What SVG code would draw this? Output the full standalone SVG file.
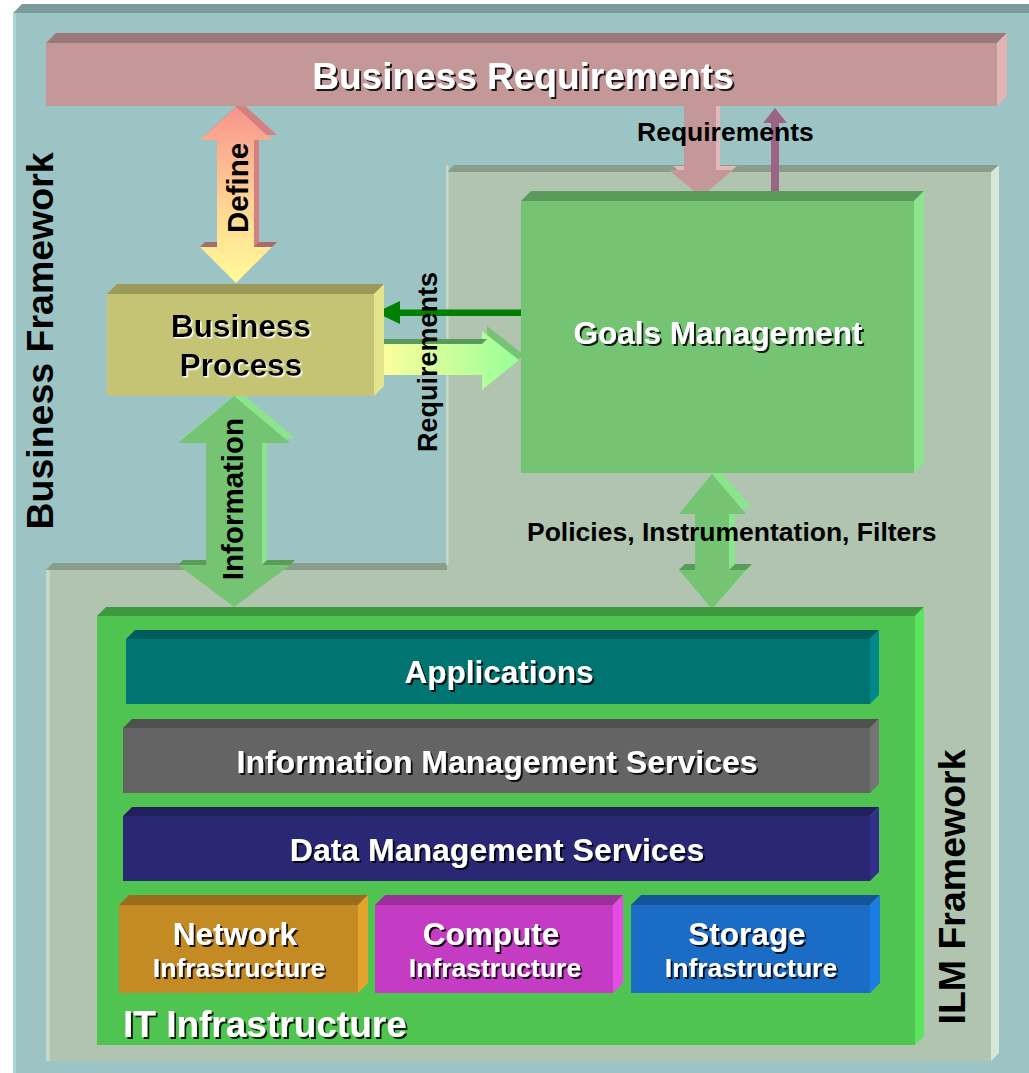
<svg xmlns="http://www.w3.org/2000/svg" width="1029" height="1073" viewBox="0 0 1029 1073">
<defs>
<style>
.t{font-family:"Liberation Sans",Arial,Helvetica,sans-serif;font-weight:bold}
.w{fill:#ffffff;filter:url(#sh)}
.k{fill:#000000}
.kw{fill:#000000;filter:url(#shw)}
</style>
<filter id="sh" x="-10%" y="-20%" width="130%" height="160%"><feDropShadow dx="2" dy="2" stdDeviation="0.4" flood-color="#000" flood-opacity="0.85"/></filter>
<filter id="shw" x="-10%" y="-20%" width="130%" height="160%"><feDropShadow dx="1.5" dy="1.5" stdDeviation="0.3" flood-color="#fff" flood-opacity="0.95"/></filter>
<linearGradient id="gDef" x1="0" y1="0" x2="0" y2="1"><stop offset="0" stop-color="#F7948E"/><stop offset="0.55" stop-color="#FFD493"/><stop offset="1" stop-color="#FFFB98"/></linearGradient>
<linearGradient id="gReq" x1="0" y1="0" x2="1" y2="0"><stop offset="0" stop-color="#FFFF9C"/><stop offset="1" stop-color="#98FF98"/></linearGradient>
</defs>

<g id="business-framework">
<rect x="13" y="13" width="1020" height="1065" fill="#9CC4C4"/>
<polygon points="13,13 22,4 1035,4 1035,13" fill="#7A9C9C"/>
<rect x="13" y="13" width="3" height="1065" fill="#B0D4D4"/>
<text class="t k" font-size="37.5" text-anchor="middle" transform="translate(53,341) rotate(-90)">Business Framework</text>
</g>

<g id="ilm-framework">
<polygon points="447,172 991,172 991,1061 46,1061 46,570 447,570" fill="#B0C4B0"/>
<polygon points="447,172 454,165 999,165 991,172" fill="#8A9C8A"/>
<polygon points="46,570 53,563 447,563 447,570" fill="#8A9C8A"/>
<polygon points="991,172 999,165 999,1053 991,1061" fill="#D6E8D6"/>
<rect x="46" y="570" width="4" height="491" fill="#C4D8C4"/>
<rect x="446" y="165" width="2.5" height="400" fill="#C4D8C4"/>
<text class="t k" font-size="37.5" text-anchor="middle" transform="translate(965,887) rotate(-90)">ILM Framework</text>
</g>

<g id="connectors">
<g id="define-arrow">
<path transform="translate(5,-5)" d="M236,107 L272,140 L254,140 L254,247 L272,247 L236,283 L200,247 L217,247 L217,140 L200,140 Z" fill="#D48080"/>
<path d="M236,107 L272,140 L254,140 L254,247 L272,247 L236,283 L200,247 L217,247 L217,140 L200,140 Z" fill="url(#gDef)"/>
<polygon points="200,247 205,242 217,242 217,247" fill="#A46C6C"/>
<polygon points="254,247 259,242 277,242 272,247" fill="#A46C6C"/>
<text class="t k" font-size="29.5" text-anchor="middle" transform="translate(248,188) rotate(-90)">Define</text>
</g>
<g id="req-down-arrow">
<path transform="translate(4,-4)" d="M684,110 L716,110 L716,170 L733,170 L701,197 L669,170 L684,170 Z" fill="#E4B8B8"/>
<path d="M684,104 L716,104 L716,170 L733,170 L701,197 L669,170 L684,170 Z" fill="#C49898"/>
</g>
<g id="req-up-arrow">
<path d="M775,108 L787,123 L779,123 L779,194 L771,194 L771,123 L763,123 Z" fill="#9C6484"/>
</g>
<text class="t k" font-size="26.5" x="637" y="141">Requirements</text>
<g id="goals-to-process-arrow">
<path d="M525,309.5 L400,309.5 L400,301 L376,312.5 L400,324 L400,316 L525,316 Z" fill="#008000"/>
</g>
<g id="process-to-goals-arrow">
<path transform="translate(5,-5)" d="M378,344 L482,344 L482,331 L519,360 L482,390 L482,375 L378,375 Z" fill="#74C474"/>
<path d="M378,344 L482,344 L482,331 L519,360 L482,390 L482,375 L378,375 Z" fill="url(#gReq)"/>
<polygon points="378,344 383,339 487,339 482,344" fill="#5A9A5A"/>
</g>
<text class="t k" font-size="27" text-anchor="middle" transform="translate(437,362) rotate(-90)">Requirements</text>
<g id="information-arrow">
<path transform="translate(5,-5)" d="M234,396 L290,443 L262,443 L262,565 L290,565 L234,607 L178,565 L206,565 L206,443 L178,443 Z" fill="#8CE48C"/>
<path d="M234,396 L290,443 L262,443 L262,565 L290,565 L234,607 L178,565 L206,565 L206,443 L178,443 Z" fill="#74C474"/>
<polygon points="178,565 183,560 206,560 206,565" fill="#5A9A5A"/>
<polygon points="262,565 267,560 295,560 290,565" fill="#5A9A5A"/>
<text class="t k" font-size="29.5" text-anchor="middle" transform="translate(243,499) rotate(-90)">Information</text>
</g>
<g id="policies-arrow">
<path transform="translate(6,-6)" d="M712,474 L746,514 L729,514 L729,570 L746,570 L712,609 L679,570 L695,570 L695,514 L679,514 Z" fill="#8CE48C"/>
<path d="M712,474 L746,514 L729,514 L729,570 L746,570 L712,609 L679,570 L695,570 L695,514 L679,514 Z" fill="#74C474"/>
<polygon points="679,570 685,564 695,564 695,570" fill="#5A9A5A"/>
<polygon points="729,570 735,564 752,564 746,570" fill="#5A9A5A"/>
</g>
<text class="t k" font-size="26.5" x="527" y="541">Policies, Instrumentation, Filters</text>
</g>

<g id="business-requirements">
<rect x="46" y="43" width="951" height="63" fill="#C49898"/>
<polygon points="46,43 56,33 1007,33 997,43" fill="#9C7878"/>
<polygon points="997,43 1007,33 1007,96 997,106" fill="#E2B4B4"/>
<text class="t w" font-size="37" text-anchor="middle" x="523" y="89">Business Requirements</text>
</g>

<g id="goals-management">
<rect x="521" y="201" width="393" height="272" fill="#74C474"/>
<polygon points="521,201 531,191 924,191 914,201" fill="#5A9A5A"/>
<polygon points="914,201 924,191 924,463 914,473" fill="#8CE48C"/>
<text class="t w" font-size="31.5" text-anchor="middle" x="718" y="344">Goals Management</text>
</g>

<g id="business-process">
<rect x="107" y="294" width="267" height="102" fill="#C4C474"/>
<polygon points="107,294 117,284 384,284 374,294" fill="#9A9A5A"/>
<polygon points="374,294 384,284 384,386 374,396" fill="#E4E48C"/>
<text class="t kw" font-size="31.5" text-anchor="middle" x="241" y="337">Business</text>
<text class="t kw" font-size="31.5" text-anchor="middle" x="241" y="376">Process</text>
</g>

<g id="it-infrastructure">
<rect x="97" y="616" width="818" height="429" fill="#50C450"/>
<polygon points="97,616 106,607 924,607 915,616" fill="#3C9A3C"/>
<polygon points="915,616 924,607 924,1036 915,1045" fill="#5CE45C"/>
<text class="t w" font-size="37" x="123" y="1037">IT Infrastructure</text>
</g>

<g id="applications">
<rect x="126" y="639" width="744" height="65" fill="#007470"/>
<polygon points="126,639 135,630 879,630 870,639" fill="#005C5A"/>
<polygon points="870,639 879,630 879,695 870,704" fill="#00888A"/>
<text class="t w" font-size="31.5" text-anchor="middle" x="499" y="683">Applications</text>
</g>

<g id="information-management-services">
<rect x="123" y="728" width="747" height="65" fill="#646464"/>
<polygon points="123,728 132,719 879,719 870,728" fill="#505050"/>
<polygon points="870,728 879,719 879,784 870,793" fill="#747474"/>
<text class="t w" font-size="32" text-anchor="middle" x="497" y="773">Information Management Services</text>
</g>

<g id="data-management-services">
<rect x="123" y="816" width="747" height="65" fill="#2A2874"/>
<polygon points="123,816 132,807 879,807 870,816" fill="#22205C"/>
<polygon points="870,816 879,807 879,872 870,881" fill="#32308A"/>
<text class="t w" font-size="32" text-anchor="middle" x="497" y="861">Data Management Services</text>
</g>

<g id="network-infrastructure">
<rect x="119" y="905" width="239" height="88" fill="#C48A24"/>
<polygon points="119,905 129,895 368,895 358,905" fill="#9A6C1C"/>
<polygon points="358,905 368,895 368,983 358,993" fill="#E4A42C"/>
<text class="t w" font-size="31.5" text-anchor="middle" x="235" y="945">Network</text>
<text class="t w" font-size="26.5" text-anchor="middle" x="239" y="977">Infrastructure</text>
</g>

<g id="compute-infrastructure">
<rect x="375" y="905" width="238" height="88" fill="#C43CC4"/>
<polygon points="375,905 385,895 623,895 613,905" fill="#9A309A"/>
<polygon points="613,905 623,895 623,983 613,993" fill="#E44CE4"/>
<text class="t w" font-size="31.5" text-anchor="middle" x="491" y="945">Compute</text>
<text class="t w" font-size="26.5" text-anchor="middle" x="495" y="977">Infrastructure</text>
</g>

<g id="storage-infrastructure">
<rect x="631" y="905" width="239" height="88" fill="#1A6CC4"/>
<polygon points="631,905 641,895 880,895 870,905" fill="#14559A"/>
<polygon points="870,905 880,895 880,983 870,993" fill="#1C7CE4"/>
<text class="t w" font-size="31.5" text-anchor="middle" x="747" y="945">Storage</text>
<text class="t w" font-size="26.5" text-anchor="middle" x="751" y="977">Infrastructure</text>
</g>
</svg>
